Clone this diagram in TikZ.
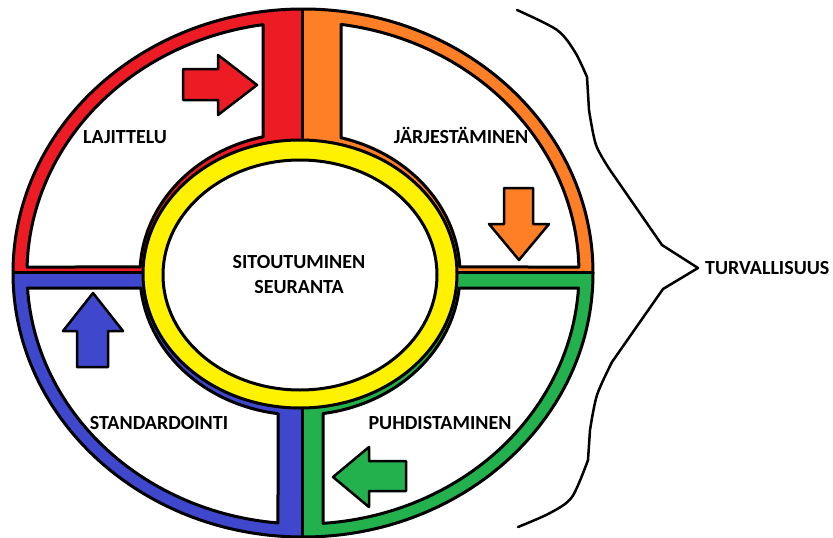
\documentclass[tikz,border=0pt]{standalone}
\usepackage{fontspec}
\setmainfont{Carlito}
\definecolor{pred}{HTML}{ED1C24}
\definecolor{porange}{HTML}{FF7F27}
\definecolor{pyellow}{HTML}{FFF200}
\definecolor{pgreen}{HTML}{22B14C}
\definecolor{pblue}{HTML}{3F48CC}
\begin{document}
\begin{tikzpicture}[x=1pt,y=-1pt,line join=round,
  outline/.style={draw=black,line width=3pt},
  whitebox/.style={fill=white,draw=black,line width=3pt},
  blockarrow/.style={draw=black,line width=2.5pt},
  lbl/.style={font=\bfseries\fontsize{20}{25}\selectfont,text=black,inner sep=0pt,align=center},
  bracestyle/.style={draw=black,line width=2.5pt,line cap=round}]
\useasboundingbox (0,0) rectangle (833,538);
% quadrant colours
\begin{scope}\clip (0,0) rectangle (302,272);
\fill[pred] (303,273) ellipse [x radius=290pt,y radius=264pt];\end{scope}
\begin{scope}\clip (302,0) rectangle (700,272);
\fill[porange] (303,273) ellipse [x radius=290pt,y radius=264pt];\end{scope}
\begin{scope}\clip (302,272) rectangle (700,600);
\fill[pgreen] (303,273) ellipse [x radius=290pt,y radius=264pt];\end{scope}
\begin{scope}\clip (0,272) rectangle (302,600);
\fill[pblue] (303,273) ellipse [x radius=290pt,y radius=264pt];\end{scope}
% white regions
\path[whitebox] (263,24.6) -- (263,136.8)
  -- plot[domain=256.63:182.85,samples=60] ({300+160*cos(\x)},{274+141*sin(\x)})
  -- plot[domain=181.37:261.67,samples=60] ({303+276*cos(\x)},{273+251*sin(\x)}) -- cycle;
\path[whitebox] (341,24.4) -- (341,137.7)
  -- plot[domain=-75.15:-2.85,samples=60] ({300+160*cos(\x)},{274+141*sin(\x)})
  -- plot[domain=-1.37:-82.09,samples=60] ({303+276*cos(\x)},{273+251*sin(\x)}) -- cycle;
\path[whitebox] plot[domain=5.70:81.73,samples=60] ({300+160*cos(\x)},{274+141*sin(\x)})
  -- plot[domain=85.84:3.43,samples=60] ({303+276*cos(\x)},{273+251*sin(\x)}) -- cycle;
\path[whitebox] plot[domain=174.30:97.90,samples=60] ({300+160*cos(\x)},{274+141*sin(\x)})
  -- plot[domain=95.20:176.57,samples=60] ({303+276*cos(\x)},{273+251*sin(\x)}) -- cycle;
% dividers
\draw[outline] (302,9) -- (302,145);
\draw[outline] (302,400) -- (302,537);
\draw[outline] (13,272) -- (150,272);
\draw[outline] (450,272) -- (593,272);
% outer outline
\draw[outline] (303,273) ellipse [x radius=290pt,y radius=264pt];
% yellow ring
\draw[outline,fill=pyellow] (300,274) ellipse [x radius=157pt,y radius=134pt];
\draw[outline,fill=white] (300,275) ellipse [x radius=137pt,y radius=115pt];
% block arrows
\draw[blockarrow,fill=pred] (183,69) -- (218,69) -- (218,55) -- (257,85) -- (218,115) -- (218,100) -- (183,100) -- cycle;
\draw[blockarrow,fill=porange] (504,188) -- (533,188) -- (533,224) -- (549,224) -- (519,260) -- (489,224) -- (504,224) -- cycle;
\draw[blockarrow,fill=pblue] (77,367) -- (77,331) -- (63,331) -- (93,293) -- (123,331) -- (108,331) -- (108,367) -- cycle;
\draw[blockarrow,fill=pgreen] (406,461) -- (369,461) -- (369,447) -- (333,477) -- (369,507) -- (369,491) -- (406,491) -- cycle;
% labels
\node[lbl] (lajittelu) at (125,137) {LAJITTELU};
\node[lbl] (jarj) at (461,135) {JÄRJESTÄMINEN};
\node[lbl] (sitou) at (299,275) {SITOUTUMINEN\\SEURANTA};
\node[lbl] (stand) at (159,423) {STANDARDOINTI};
\node[lbl] (puhd) at (440,423) {PUHDISTAMINEN};
\node[lbl,anchor=west] (turv) at (705,268) {TURVALLISUUS};
% brace
\coordinate (tip) at (698,268);
\draw[bracestyle] plot[smooth,tension=0.5] coordinates {(517,10) (557,30) (575,52) (587,77)}
  -- plot[smooth,tension=0.5] coordinates {(589,110) (596,145) (610,170)}
  -- (662,245) -- (tip) -- (663,289)
  -- plot[smooth,tension=0.5] coordinates {(612,362) (597,395) (590,430)}
  -- plot[smooth,tension=0.5] coordinates {(588,460) (572,497) (550,513) (518,527)};
\end{tikzpicture}
\end{document}
